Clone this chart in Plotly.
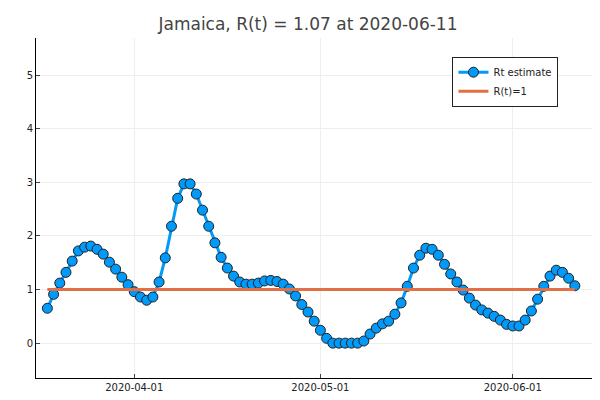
import pandas as pd
import plotly.graph_objects as go

start_date = "2020-03-18"
rt_values = [0.65, 0.91, 1.12, 1.32, 1.53, 1.72, 1.79, 1.81, 1.75, 1.66,
             1.51, 1.38, 1.23, 1.09, 0.96, 0.86, 0.80, 0.86, 1.14, 1.59,
             2.18, 2.70, 2.97, 2.97, 2.78, 2.48, 2.18, 1.87, 1.60, 1.40,
             1.25, 1.14, 1.10, 1.10, 1.12, 1.16, 1.17, 1.15, 1.10, 1.01,
             0.88, 0.72, 0.58, 0.41, 0.24, 0.09, 0.0, 0.0, 0.0, 0.0,
             0.0, 0.04, 0.17, 0.28, 0.36, 0.41, 0.54, 0.75, 1.06, 1.40,
             1.64, 1.77, 1.75, 1.64, 1.47, 1.29, 1.14, 0.99, 0.84, 0.71,
             0.62, 0.56, 0.50, 0.43, 0.35, 0.32, 0.32, 0.43, 0.60, 0.82,
             1.06, 1.25, 1.36, 1.32, 1.21, 1.07]
dates = pd.date_range(start_date, periods=len(rt_values), freq="D")
x_ticks = ["2020-04-01", "2020-05-01", "2020-06-01"]

fig = go.Figure()
fig.add_trace(go.Scatter(x=dates, y=rt_values, mode="lines+markers", name="Rt estimate",
                         line=dict(color="#009AFA", width=3),
                         marker=dict(size=10, color="#009AFA", line=dict(color="#222222", width=1))))
fig.add_trace(go.Scatter(x=[dates[0], dates[-1]], y=[1, 1], mode="lines", name="R(t)=1",
                         line=dict(color="#E26F46", width=3)))

fig.update_layout(
    width=600, height=400, plot_bgcolor="white", paper_bgcolor="white",
    margin=dict(l=28, r=13, t=30, b=30, autoexpand=False),
    title=dict(text="Jamaica, R(t) = 1.07 at 2020-06-11", x=0.5, xanchor="center", y=0.975,
               font=dict(family="DejaVu Sans", size=17, color="#444444")),
    font=dict(family="DejaVu Sans", size=10, color="#222222"),
    legend=dict(x=0.745, y=0.945, xanchor="left", yanchor="top", bordercolor="#222222",
                borderwidth=1, bgcolor="white", font=dict(size=10)),
)
fig.update_xaxes(range=["2020-03-16 04:00", "2020-06-14 06:00"], tickvals=x_ticks, ticktext=x_ticks,
                 showgrid=True, gridcolor="#EEEEEE", showline=True, linecolor="black",
                 ticks="inside", ticklen=4, zeroline=False, automargin=False)
fig.update_yaxes(range=[-0.65, 5.69], tickvals=[0, 1, 2, 3, 4, 5], showgrid=True, gridcolor="#EEEEEE",
                 showline=True, linecolor="black", ticks="inside", ticklen=4, zeroline=False,
                 automargin=False)

fig.write_html("out.html")
